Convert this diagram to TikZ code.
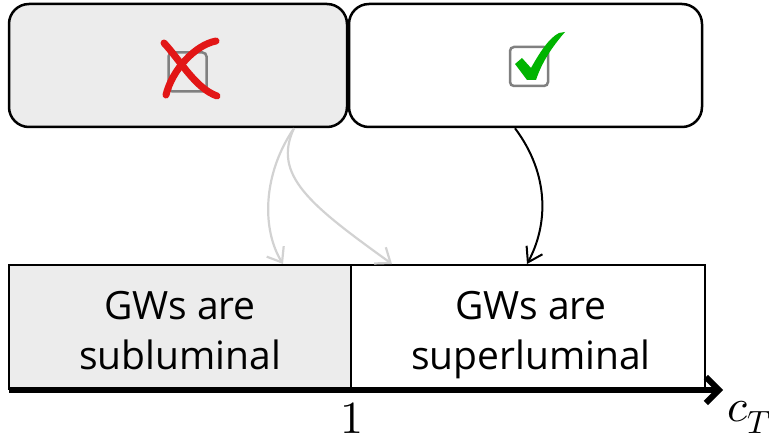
\documentclass[tikz,border=0pt]{standalone}
\usepackage{fontspec}
\usepackage{unicode-math}
\setmathfont{Latin Modern Math}
\newfontfamily\osans{Open Sans}
\usetikzlibrary{arrows.meta}
\definecolor{boxgray}{RGB}{236,236,236}
\definecolor{curvegray}{RGB}{210,210,210}
\definecolor{chkgray}{RGB}{128,128,128}
\definecolor{xred}{RGB}{226,22,22}
\definecolor{chkgreen}{RGB}{0,180,0}
\begin{document}
\begin{tikzpicture}[x=1pt,y=-1pt,
  topbox/.style={draw, line width=2.5pt, rounded corners=20pt, minimum height=123pt, inner sep=0pt},
  botbox/.style={draw, line width=2pt, minimum height=124pt, inner sep=0pt},
  chk/.style={draw=chkgray, line width=2.5pt, rounded corners=4pt, minimum width=38pt, minimum height=39pt, inner sep=0pt},
  lbl/.style={font=\osans\fontsize{39}{50}\selectfont, align=center, inner sep=0pt},
  mathlbl/.style={font=\fontsize{46}{46}\selectfont, inner sep=0pt},
  graycurve/.style={draw=curvegray, line width=2.2pt, -{Straight Barb[length=13pt,width=20pt]}},
  blackcurve/.style={draw=black, line width=2pt, -{Straight Barb[length=14pt,width=18pt]}},
  xstroke/.style={draw=xred, line width=7pt, line cap=round}
]
\useasboundingbox (0,0) rectangle (769,438);
% top boxes
\node[topbox, fill=boxgray, minimum width=338pt] (tl) at (178,65.5) {};
\node[topbox, fill=white, minimum width=353pt] (tr) at (525.5,65.5) {};
% bottom boxes
\node[botbox, fill=boxgray, minimum width=342pt] (bl) at (180,327) {};
\node[botbox, fill=white, minimum width=354pt] (br) at (528,327) {};
% checkboxes
\node[chk] (cb1) at (187.5,72) {};
\node[chk] (cb2) at (529,66.5) {};
% red cross
\draw[xstroke] (164,43) .. controls (180,60) and (195,88) .. (217,96);
\draw[xstroke] (216,41) .. controls (195,45) and (172,70) .. (166,95);
% green check
\fill[chkgreen] (515,64) -- (522,58) -- (531,68) .. controls (540,52) and (549,38) .. (559,33) -- (565,32) .. controls (552,47) and (542,62) .. (536,80) -- (527,80) -- cycle;
% labels
\node[lbl, anchor=base] (t1) at (180,370) {GWs are\\subluminal};
\node[lbl, anchor=base] (t2) at (531,370) {GWs are\\superluminal};
% connectors
\draw[graycurve] ([xshift=116pt]tl.south) .. controls (262,175) and (262,230) .. ([xshift=103pt]bl.north);
\draw[graycurve] ([xshift=116pt]tl.south) .. controls (272,175) and (310,205) .. ([xshift=-136pt]br.north);
\draw[blackcurve] ([xshift=-10.5pt]tr.south) .. controls (550,175) and (548,225) .. ([xshift=-1pt]br.north);
% axis
\coordinate (axs) at (9,390);
\coordinate (axe) at (723,390);
\draw[line width=6pt, -{Straight Barb[length=13pt,width=26pt]}] (axs) -- (axe);
\node[mathlbl, anchor=base] (one) at (352,433) {$1$};
\node[mathlbl, anchor=base west] (ct) at (727,422) {$c_T$};
\end{tikzpicture}
\end{document}
